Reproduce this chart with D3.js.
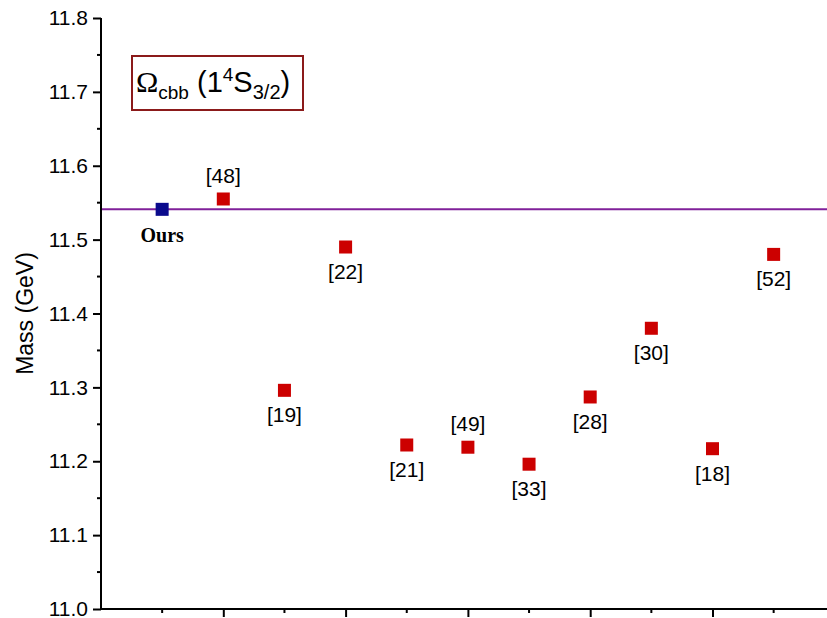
<!DOCTYPE html>
<html><head><meta charset="utf-8">
<script src="https://cdn.jsdelivr.net/npm/d3@7/dist/d3.min.js"></script>
<style>body{margin:0;background:#fff}svg{display:block}</style>
</head><body>
<svg id="c" width="827" height="618"></svg>
<script>
const refs = ["Ours","[48]","[19]","[22]","[21]","[49]","[33]","[28]","[30]","[18]","[52]"];
const positions = [1,2,3,4,5,6,7,8,9,10,11];
const masses = [11.541,11.555,11.296,11.490,11.222,11.219,11.196,11.287,11.380,11.217,11.480];
const labelAbove = [false,true,false,false,false,true,false,false,false,false,false];
const oursMass = 11.541;
const yTicks = [11.0,11.1,11.2,11.3,11.4,11.5,11.6,11.7,11.8];

const svg = d3.select("#c");
const x = d3.scaleLinear().domain([0,12]).range([101,101+12*61.15]);
const y = d3.scaleLinear().domain([11.0,11.8]).range([609,18]);

// horizontal reference line
svg.append("line").attr("x1",x(0)).attr("x2",827).attr("y1",y(oursMass)).attr("y2",y(oursMass))
  .attr("stroke","#80209a").attr("stroke-width",2);

// y axis
const yMinor = d3.range(11.05,11.8,0.1);
const gy = svg.append("g").attr("transform",`translate(${x(0)},0)`);
gy.call(d3.axisLeft(y).tickValues(yTicks).tickFormat(d3.format(".1f")).tickSize(8).tickPadding(5));
gy.selectAll(".minor").data(yMinor).enter().append("line").attr("class","minor")
  .attr("x1",0).attr("x2",-4).attr("y1",d=>y(d)).attr("y2",d=>y(d)).attr("stroke","#000").attr("stroke-width",2);
gy.select(".domain").attr("stroke-width",2).attr("d",`M0,${y(11.8)}V${y(11.0)}`);
gy.selectAll(".tick line").attr("stroke-width",2);
gy.selectAll(".tick text").attr("font-family","Liberation Sans, Arial, sans-serif").attr("font-size",21).attr("fill","#000");

// x axis
const gx = svg.append("g").attr("transform",`translate(0,${y(11.0)})`);
gx.call(d3.axisBottom(x).tickValues([2,4,6,8,10]).tickFormat("").tickSize(8));
gx.select(".domain").attr("stroke-width",2).attr("d",`M${x(0)},0H830`);
gx.selectAll(".tick line").attr("stroke-width",2);
gx.selectAll(".minor").data([1,3,5,7,9,11]).enter().append("line").attr("class","minor")
  .attr("y1",0).attr("y2",4).attr("x1",d=>x(d)).attr("x2",d=>x(d)).attr("stroke","#000").attr("stroke-width",2);

// y label
svg.append("text").attr("transform",`translate(33,${(y(11.8)+y(11.0))/2}) rotate(-90)`)
  .attr("text-anchor","middle").attr("font-family","Liberation Sans, Arial, sans-serif").attr("font-size",23)
  .text("Mass (GeV)");

// markers
const s = 13;
svg.selectAll(".pt").data(positions).enter().append("rect").attr("class","pt")
  .attr("x",(d)=>x(d)-s/2).attr("y",(d,i)=>y(masses[i])-s/2).attr("width",s).attr("height",s)
  .attr("fill",(d,i)=>i===0?"#0a0a8c":"#cc0000");

// labels
svg.selectAll(".lab").data(positions).enter().append("text").attr("class","lab")
  .attr("x",d=>x(d)).attr("y",(d,i)=>labelAbove[i]? y(masses[i])-16 : y(masses[i])+(i===0?33:32))
  .attr("text-anchor","middle")
  .attr("font-family",(d,i)=>i===0?"Liberation Serif, Times New Roman, serif":"Liberation Sans, Arial, sans-serif")
  .attr("font-weight",(d,i)=>i===0?"bold":"normal")
  .attr("font-size",(d,i)=>i===0?20:21)
  .text((d,i)=>refs[i]);

// legend box
svg.append("rect").attr("x",132).attr("y",56).attr("width",171).attr("height",54)
  .attr("fill","#fff").attr("stroke","#8b1a1a").attr("stroke-width",2);
const t = svg.append("text").attr("x",136).attr("y",92).attr("font-family","Liberation Sans, Arial, sans-serif").attr("font-size",29);
t.append("tspan").attr("font-family","Liberation Serif, Times New Roman, serif").attr("font-size",30).text("Ω");
t.append("tspan").attr("font-size",19).attr("dy",7).text("cbb");
t.append("tspan").attr("dy",-7).text(" (1");
t.append("tspan").attr("font-size",19).attr("dy",-11).text("4");
t.append("tspan").attr("dy",11).text("S");
t.append("tspan").attr("font-size",20).attr("dy",7).text("3/2");
t.append("tspan").attr("dy",-7).text(")");
</script>
</body></html>
